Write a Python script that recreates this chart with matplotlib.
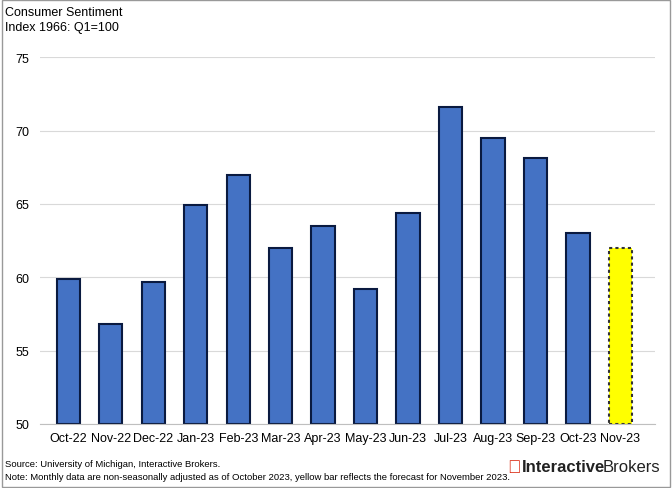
import matplotlib
matplotlib.use("Agg")
import matplotlib.pyplot as plt

months = ["Oct-22","Nov-22","Dec-22","Jan-23","Feb-23","Mar-23","Apr-23","May-23","Jun-23","Jul-23","Aug-23","Sep-23","Oct-23","Nov-23"]
values = [59.9,56.8,59.7,64.9,67.0,62.0,63.5,59.2,64.4,71.6,69.5,68.1,63.0,62.0]
yticks = [50,55,60,65,70,75]

plt.rcParams["font.family"] = "Liberation Sans"
fig = plt.figure(figsize=(6.72,4.89), dpi=100)
ax = fig.add_axes([0.06,0.131,0.915,0.75])
x = range(len(months))
colors = ["#4472C4"]*(len(values)-1) + ["#FFFF00"]
bars = ax.bar(x, [v-50 for v in values], bottom=50, width=0.55, color=colors, edgecolor="#0A1A40", linewidth=1.5)
bars[-1].set_linestyle((0,(1.5,1.5)))
bars[-1].set_edgecolor("#333333")
ax.set_ylim(50,75)
ax.set_xlim(-0.66,13.82)
ax.set_yticks(yticks)
ax.set_xticks(list(x))
ax.set_xticklabels(months, fontsize=9)
ax.tick_params(axis="y", labelsize=9, length=0, pad=8)
ax.tick_params(axis="x", length=0, pad=6)
ax.grid(axis="y", color="#D9D9D9", linewidth=0.8)
ax.set_axisbelow(True)
for s in ["top","right","left"]:
    ax.spines[s].set_visible(False)
ax.spines["bottom"].set_color("#BFBFBF")
fig.text(0.008,0.985,"Consumer Sentiment\nIndex 1966: Q1=100", fontsize=9, va="top", linespacing=1.3)
fig.text(0.008,0.045,"Source: University of Michigan, Interactive Brokers.", fontsize=6.8)
fig.text(0.008,0.018,"Note: Monthly data are non-seasonally adjusted as of October 2023, yellow bar reflects the forecast for November 2023.", fontsize=6.8)
fig.text(0.776,0.035,"Interactive", fontsize=12, fontweight="bold", color="#222222")
fig.text(0.897,0.035,"Brokers", fontsize=12, color="#222222")
fig.text(0.755,0.033,"\u25E4", fontsize=13, color="#D81E05")
rect = plt.Rectangle((0.003,0.003),0.994,0.994, transform=fig.transFigure, fill=False, edgecolor="#999999", linewidth=1)
fig.patches.append(rect)
fig.savefig("out.png", dpi=100)
